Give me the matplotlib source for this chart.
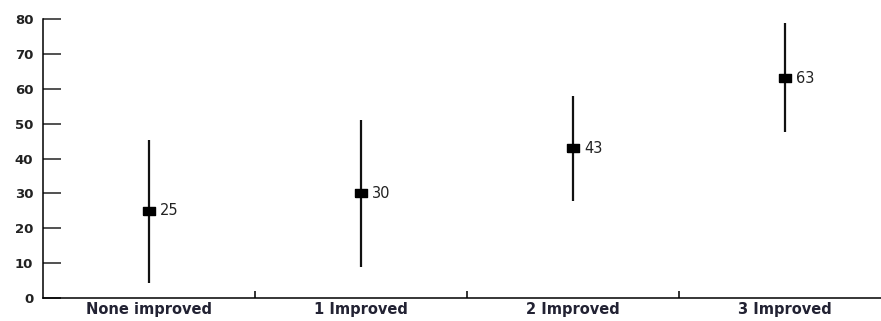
import matplotlib
matplotlib.use("Agg")
import matplotlib.pyplot as plt
import numpy as np

# valeurs
categories = ["None improved", "1 Improved", "2 Improved", "3 Improved"]
valeurs = [25, 30, 43, 63]
bas = [4.3, 8.9, 27.8, 47.7]
haut = [45.3, 51.0, 57.8, 78.8]

fig = plt.figure(figsize=(8.81, 3.21), dpi=100)
ax = fig.add_axes([43/881, 23/321, 1 - 43/881, 279/321])

x = np.arange(len(categories)) + 0.5
err = [np.array(valeurs) - np.array(bas), np.array(haut) - np.array(valeurs)]

# marqueur rectangulaire plus large que haut
rect = [(-1.5, -1), (1.5, -1), (1.5, 1), (-1.5, 1), (-1.5, -1)]
ax.errorbar(x, valeurs, yerr=err, fmt="none", ecolor="#111111",
            elinewidth=1.6, capsize=0)
ax.plot(x, valeurs, linestyle="none", marker=rect, markersize=9,
        color="black")

for xi, v in zip(x, valeurs):
    ax.annotate(str(v), (xi, v), xytext=(8, 0), textcoords="offset points",
                va="center", ha="left", fontsize=10.5, color="#222222")

ax.set_xlim(0, (881 - 43) / 212)
ax.set_ylim(0, 80)
ax.set_yticks(range(0, 81, 10))
ax.tick_params(axis="y", direction="in", length=13, width=1.1,
               labelsize=9.5, pad=7, colors="#222222")
for lab in ax.get_yticklabels():
    lab.set_fontweight("bold")

ax.set_xticks(x)
ax.set_xticklabels(categories, fontsize=10.5, fontweight="bold",
                   color="#222233")
ax.tick_params(axis="x", length=0, pad=3)
ax.set_xticks([1, 2, 3], minor=True)
ax.tick_params(axis="x", which="minor", direction="in", length=5, width=1.2,
               color="#111111")

for s in ["top", "right"]:
    ax.spines[s].set_visible(False)
ax.spines["left"].set_linewidth(1.1)
ax.spines["bottom"].set_linewidth(1.1)

fig.savefig("out.png", dpi=100)
